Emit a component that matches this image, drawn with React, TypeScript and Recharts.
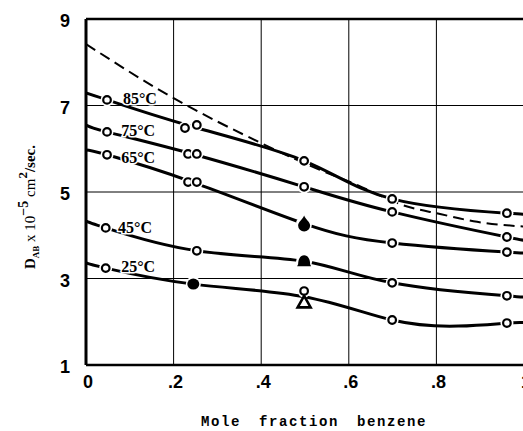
import React from "react";
import {
  ComposedChart,
  Line,
  Scatter,
  XAxis,
  YAxis,
  CartesianGrid,
  ReferenceLine,
  Label,
} from "recharts";

// axis ticks
const X_TICKS = [0, 0.2, 0.4, 0.6, 0.8, 1];
const Y_TICKS = [1, 3, 5, 7, 9];

// smooth curves (knots)
const curve85 = [
  { x: 0, y: 7.29 },
  { x: 0.048, y: 7.13 },
  { x: 0.24, y: 6.52 },
  { x: 0.498, y: 5.72 },
  { x: 0.699, y: 4.84 },
  { x: 0.961, y: 4.51 },
  { x: 1, y: 4.49 },
];
const curve75 = [
  { x: 0, y: 6.55 },
  { x: 0.048, y: 6.39 },
  { x: 0.243, y: 5.88 },
  { x: 0.498, y: 5.12 },
  { x: 0.699, y: 4.54 },
  { x: 0.961, y: 3.96 },
  { x: 1, y: 3.9 },
];
const curve65 = [
  { x: 0, y: 5.97 },
  { x: 0.048, y: 5.86 },
  { x: 0.243, y: 5.23 },
  { x: 0.498, y: 4.27 },
  { x: 0.699, y: 3.82 },
  { x: 0.961, y: 3.61 },
  { x: 1, y: 3.6 },
];
const curve45 = [
  { x: 0, y: 4.33 },
  { x: 0.045, y: 4.17 },
  { x: 0.253, y: 3.64 },
  { x: 0.498, y: 3.4 },
  { x: 0.699, y: 2.9 },
  { x: 0.961, y: 2.6 },
  { x: 1, y: 2.58 },
];
const curve25 = [
  { x: 0, y: 3.36 },
  { x: 0.045, y: 3.24 },
  { x: 0.245, y: 2.87 },
  { x: 0.498, y: 2.58 },
  { x: 0.699, y: 2.04 },
  { x: 0.85, y: 1.9 },
  { x: 0.961, y: 1.97 },
  { x: 1, y: 1.98 },
];
const dashedCurve = [
  { x: 0, y: 8.42 },
  { x: 0.2, y: 7.17 },
  { x: 0.4, y: 6.13 },
  { x: 0.534, y: 5.51 },
  { x: 0.62, y: 5.16 },
  { x: 0.717, y: 4.72 },
  { x: 0.8, y: 4.51 },
  { x: 0.893, y: 4.31 },
  { x: 1, y: 4.2 },
];

// measured points
const openPoints = [
  { x: 0.048, y: 7.13 }, { x: 0.226, y: 6.48 }, { x: 0.253, y: 6.55 },
  { x: 0.498, y: 5.72 }, { x: 0.699, y: 4.84 }, { x: 0.961, y: 4.51 },
  { x: 0.048, y: 6.39 }, { x: 0.233, y: 5.88 }, { x: 0.253, y: 5.88 },
  { x: 0.498, y: 5.12 }, { x: 0.699, y: 4.54 }, { x: 0.961, y: 3.96 },
  { x: 0.048, y: 5.86 }, { x: 0.233, y: 5.23 }, { x: 0.253, y: 5.23 },
  { x: 0.699, y: 3.82 }, { x: 0.961, y: 3.61 },
  { x: 0.045, y: 4.17 }, { x: 0.253, y: 3.64 }, { x: 0.699, y: 2.9 },
  { x: 0.961, y: 2.6 },
  { x: 0.045, y: 3.24 }, { x: 0.498, y: 2.71 }, { x: 0.699, y: 2.04 },
  { x: 0.961, y: 1.97 },
];
const filledCircles = [{ x: 0.245, y: 2.87 }];
const drops = [{ x: 0.498, y: 4.27 }];
const bells = [{ x: 0.498, y: 3.4 }];
const triangles = [{ x: 0.498, y: 2.46 }];

const seriesLabels = [
  { x: 0.123, y: 7.17, text: "85°C" },
  { x: 0.119, y: 6.43, text: "75°C" },
  { x: 0.119, y: 5.81, text: "65°C" },
  { x: 0.112, y: 4.17, text: "45°C" },
  { x: 0.119, y: 3.29, text: "25°C" },
];

const TICK_FONT = {
  fontFamily: "'Liberation Sans', Arial, sans-serif",
  fontSize: 18,
  fontWeight: 700,
  fill: "#000",
};

const OpenDot = (p: any) => (
  <g>
    <circle cx={p.cx} cy={p.cy} r={6.5} fill="#fff" />
    <circle cx={p.cx} cy={p.cy} r={3.8} fill="#fff" stroke="#000" strokeWidth={2.2} />
  </g>
);

const FilledDot = (p: any) => (
  <g>
    <circle cx={p.cx} cy={p.cy} r={7.5} fill="#fff" />
    <ellipse cx={p.cx} cy={p.cy} rx={6} ry={5.5} fill="#000" />
  </g>
);

const Drop = (p: any) => (
  <g transform={`translate(${p.cx},${p.cy})`}>
    <circle r={8} fill="#fff" />
    <path d="M0,-8 C1.5,-4 6,-1.5 6,2 A6,6 0 0,1 -6,2 C-6,-1.5 -1.5,-4 0,-8Z" fill="#000" />
  </g>
);

const Bell = (p: any) => (
  <g transform={`translate(${p.cx},${p.cy})`}>
    <circle r={8} fill="#fff" />
    <path d="M-7,5 L-6,3 C-6,-2 -4,-6 0,-6 C4,-6 6,-2 6,3 L7,5 Z" fill="#000" />
  </g>
);

const Triangle = (p: any) => (
  <g transform={`translate(${p.cx},${p.cy})`}>
    <path d="M0,-6 L6.5,5.5 L-6.5,5.5 Z" fill="#fff" stroke="#000" strokeWidth={2.6} strokeLinejoin="miter" />
  </g>
);

const SeriesText = (p: any) => (
  <text
    x={p.cx}
    y={p.cy}
    dy="0.35em"
    textAnchor="middle"
    fontFamily="'Liberation Serif', 'DejaVu Serif', serif"
    fontSize={16}
    fontWeight={700}
    fill="#000"
    stroke="#fff"
    strokeWidth={3}
    paintOrder="stroke"
  >
    {p.payload.text}
  </text>
);

const XTitle = (props: any) => {
  const { x, width } = props.viewBox;
  return (
    <text
      x={x + width / 2 + 9}
      y={426}
      textAnchor="middle"
      fontFamily="'Liberation Mono', 'DejaVu Sans Mono', monospace"
      fontSize={14}
      fontWeight={700}
      letterSpacing={1.6}
      wordSpacing={8}
      fill="#000"
    >
      Mole fraction benzene
    </text>
  );
};

const YTitle = () => (
  <text
    transform="translate(35,207) rotate(-90)"
    textAnchor="middle"
    fontFamily="'Liberation Serif', 'DejaVu Serif', serif"
    fontSize={15}
    fontWeight={700}
    fill="#000"
  >
    <tspan>D</tspan>
    <tspan fontSize={9} dy={4}>AB</tspan>
    <tspan dy={-4} fontWeight={400}> x 10</tspan>
    <tspan fontSize={14} dy={-7}>−5</tspan>
    <tspan dy={7} fontWeight={400}>  cm</tspan>
    <tspan fontSize={13} dy={-8}>2</tspan>
    <tspan dy={8}>/sec.</tspan>
  </text>
);

const fmtX = (v: number) => (v === 0 ? "0" : v === 1 ? "1" : String(v).replace(/^0/, ""));

export default function App() {
  const curves = [curve85, curve75, curve65, curve45, curve25];
  return (
    <div
      style={{
        position: "fixed",
        left: 0,
        top: 0,
        width: 523,
        height: 431,
        overflow: "hidden",
        background: "#fff",
      }}
    >
      <ComposedChart
        width={540}
        height={431}
        margin={{ top: 19, right: 16, left: 0, bottom: 0 }}
      >
        <CartesianGrid stroke="#000" strokeWidth={1} />
        <XAxis
          type="number"
          dataKey="x"
          domain={[0, 1]}
          ticks={X_TICKS}
          tickFormatter={fmtX}
          allowDataOverflow
          height={66}
          axisLine={{ stroke: "#000", strokeWidth: 2.5 }}
          tickLine={false}
          tickMargin={4}
          tick={{ ...TICK_FONT, dx: 2 }}
          interval={0}
        >
          <Label content={XTitle} />
        </XAxis>
        <YAxis
          type="number"
          dataKey="y"
          domain={[1, 9]}
          ticks={Y_TICKS}
          allowDataOverflow
          width={86}
          axisLine={{ stroke: "#000", strokeWidth: 3 }}
          tickLine={false}
          tickMargin={10}
          tick={{ ...TICK_FONT, dy: 2 }}
          interval={0}
        >
          <Label content={YTitle} />
        </YAxis>
        <ReferenceLine y={9} stroke="#000" strokeWidth={2.5} />
        {curves.map((c, i) => (
          <Line
            key={`curve-${i}`}
            data={c}
            dataKey="y"
            type="natural"
            stroke="#000"
            strokeWidth={3}
            dot={false}
            activeDot={false}
            isAnimationActive={false}
          />
        ))}
        <Line
          data={dashedCurve}
          dataKey="y"
          type="natural"
          stroke="#000"
          strokeWidth={2}
          strokeDasharray="11 6"
          dot={false}
          activeDot={false}
          isAnimationActive={false}
        />
        <Scatter data={openPoints} shape={OpenDot} isAnimationActive={false} />
        <Scatter data={filledCircles} shape={FilledDot} isAnimationActive={false} />
        <Scatter data={drops} shape={Drop} isAnimationActive={false} />
        <Scatter data={bells} shape={Bell} isAnimationActive={false} />
        <Scatter data={triangles} shape={Triangle} isAnimationActive={false} />
        <Scatter data={seriesLabels} shape={SeriesText} isAnimationActive={false} />
      </ComposedChart>
    </div>
  );
}
